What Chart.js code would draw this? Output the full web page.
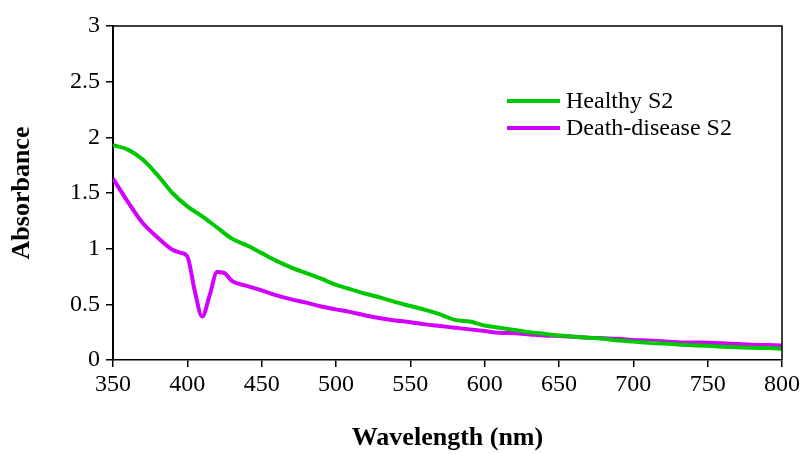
<!DOCTYPE html>
<html>
<head>
<meta charset="utf-8">
<script src="https://cdn.jsdelivr.net/npm/chart.js@4/dist/chart.umd.min.js"></script>
<style>
html,body{margin:0;padding:0;background:#fff;}
#wrap{width:801px;height:454px;position:relative;}
</style>
</head>
<body>
<div id="wrap"><canvas id="c" width="801" height="454"></canvas></div>
<script>
const healthyX = [350,360,370,380,390,400,410,420,430,440,450,460,470,480,490,500,510,520,530,540,550,560,570,580,590,600,610,620,630,640,650,660,670,680,690,700,710,720,730,740,750,760,770,780,790,800];
const healthyY = [1.93,1.89,1.80,1.66,1.50,1.38,1.29,1.19,1.09,1.03,0.96,0.89,0.83,0.78,0.73,0.675,0.635,0.595,0.56,0.52,0.485,0.45,0.41,0.36,0.345,0.31,0.29,0.27,0.25,0.235,0.22,0.21,0.20,0.19,0.175,0.165,0.155,0.148,0.14,0.132,0.127,0.12,0.115,0.11,0.107,0.102];
const diseaseX = [350,360,370,380,390,395,400,405,410,415,420,425,430,440,450,460,470,480,490,500,510,520,530,540,550,560,570,580,590,600,610,620,630,640,650,660,670,680,690,700,710,720,730,740,750,760,770,780,790,800];
const diseaseY = [1.63,1.42,1.23,1.10,0.99,0.965,0.93,0.62,0.39,0.58,0.79,0.78,0.71,0.665,0.625,0.58,0.545,0.515,0.48,0.455,0.43,0.40,0.375,0.355,0.34,0.32,0.305,0.29,0.275,0.26,0.245,0.24,0.23,0.22,0.215,0.208,0.20,0.195,0.19,0.18,0.175,0.168,0.16,0.157,0.155,0.15,0.143,0.138,0.134,0.13];
const seriesLabels = ["Healthy S2","Death-disease S2"];
const xTitle = "Wavelength (nm)";
const yTitle = "Absorbance";

const FONT = "'Liberation Serif','Times New Roman',serif";
const toPts = (xs, ys) => xs.map((x,i)=>({x:x,y:ys[i]}));

const boxPlugin = {
  id:'boxPlugin',
  afterDraw(chart){
    const {ctx, chartArea:a} = chart;
    ctx.save();
    ctx.strokeStyle = '#000';
    ctx.lineWidth = 1.5;
    ctx.beginPath();
    ctx.moveTo(a.left, a.top);
    ctx.lineTo(a.right, a.top);
    ctx.lineTo(a.right, a.bottom);
    ctx.stroke();
    const items = chart.data.datasets;
    const lx = 507, lw = 53, tx = 566;
    const ys = [101, 128];
    ctx.font = "24px " + FONT;
    ctx.textBaseline = 'middle';
    ctx.fillStyle = '#000';
    items.forEach((d,i)=>{
      ctx.strokeStyle = d.borderColor;
      ctx.lineWidth = 4;
      ctx.beginPath();
      ctx.moveTo(lx, ys[i]); ctx.lineTo(lx+lw, ys[i]);
      ctx.stroke();
      ctx.fillText(d.label, tx, ys[i] + 1);
    });
    ctx.restore();
  }
};

new Chart(document.getElementById('c'), {
  type:'line',
  data:{
    datasets:[
      {label:seriesLabels[0], data:toPts(healthyX,healthyY), borderColor:'#00c800', borderWidth:4, pointRadius:0, tension:0.4, cubicInterpolationMode:'monotone', fill:false},
      {label:seriesLabels[1], data:toPts(diseaseX,diseaseY), borderColor:'#d400ff', borderWidth:4, pointRadius:0, tension:0.4, cubicInterpolationMode:'monotone', fill:false}
    ]
  },
  options:{
    responsive:false,
    animation:false,
    layout:{padding:{top:26, right:19, left:0, bottom:0}},
    plugins:{legend:{display:false}, tooltip:{enabled:false}},
    scales:{
      x:{
        type:'linear', min:350, max:800,
        ticks:{stepSize:50, color:'#000', font:{family:FONT, size:24}, padding:3, maxRotation:0},
        grid:{display:true, drawOnChartArea:false, drawTicks:true, tickLength:7, color:'#000', lineWidth:1.5},
        border:{display:true, color:'#000', width:1.5},
        title:{display:true, text:xTitle, color:'#000', font:{family:FONT, size:26, weight:'bold'}, padding:{top:10,bottom:0}},
        afterFit(s){ s.height = 94; s.paddingRight = 0; s.paddingLeft = 0; }
      },
      y:{
        min:0, max:3,
        ticks:{stepSize:0.5, color:'#000', font:{family:FONT, size:24}, padding:6, callback:(v)=>String(v)},
        grid:{display:true, drawOnChartArea:false, drawTicks:true, tickLength:7, color:'#000', lineWidth:1.5},
        border:{display:true, color:'#000', width:2},
        title:{display:true, text:yTitle, color:'#000', font:{family:FONT, size:26, weight:'bold'}, padding:{top:7,bottom:10}},
        afterFit(s){ s.width = 113; }
      }
    }
  },
  plugins:[boxPlugin]
});
</script>
</body>
</html>
